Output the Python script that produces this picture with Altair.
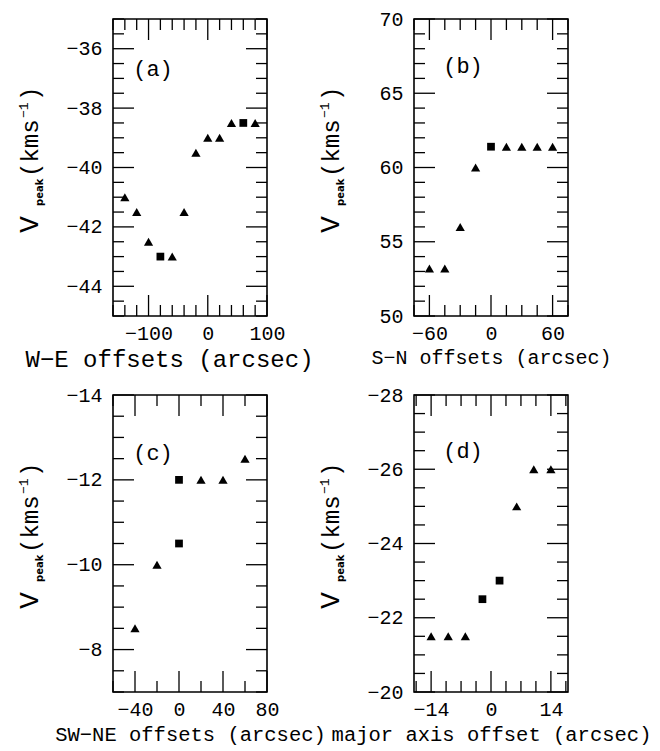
import altair as alt
import pandas as pd

FONT = "Liberation Mono"

# ---- data ----
a_x = [-140, -120, -100, -80, -60, -40, -20, 0, 20, 40, 60, 80]
a_y = [-41, -41.5, -42.5, -43, -43, -41.5, -39.5, -39, -39, -38.5, -38.5, -38.5]
a_k = ["t", "t", "t", "s", "t", "t", "t", "t", "t", "t", "s", "t"]

b_x = [-60, -45, -30, -15, 0, 15, 30, 45, 60]
b_y = [53.2, 53.2, 56, 60, 61.4, 61.4, 61.4, 61.4, 61.4]
b_k = ["t", "t", "t", "t", "s", "t", "t", "t", "t"]

c_x = [-40, -20, 0, 0, 20, 40, 60]
c_y = [-8.5, -10, -10.5, -12, -12, -12, -12.5]
c_k = ["t", "t", "s", "s", "t", "t", "t"]

d_x = [-14, -10, -6, -2, 2, 6, 10, 14]
d_y = [-21.5, -21.5, -21.5, -22.5, -23, -25, -26, -26]
d_k = ["t", "t", "t", "s", "s", "t", "t", "t"]

# axis ticks (major = labelled, minor = unlabelled)
a_xmaj = [-100, 0, 100]
a_xmin = [-160, -140, -120, -80, -60, -40, -20, 20, 40, 60, 80]
a_ymaj = [-44, -42, -40, -38, -36]
a_ymin = [-45, -44.5, -43.5, -43, -42.5, -41.5, -41, -40.5, -39.5, -39, -38.5,
          -37.5, -37, -36.5, -35.5, -35]

b_xmaj = [-60, 0, 60]
b_xmin = [-75, -45, -30, -15, 15, 30, 45, 75]
b_ymaj = [50, 55, 60, 65, 70]
b_ymin = [51, 52, 53, 54, 56, 57, 58, 59, 61, 62, 63, 64, 66, 67, 68, 69]

c_xmaj = [-40, 0, 40, 80]
c_xmin = [-60, -20, 20, 60]
c_ymaj = [-14, -12, -10, -8]
c_ymin = [-13.5, -13, -12.5, -11.5, -11, -10.5, -9.5, -9, -8.5, -7.5, -7]

d_xmaj = [-14, 0, 14]
d_xmin = [-17.5, -10.5, -7, -3.5, 3.5, 7, 10.5, 17.5]
d_ymaj = [-28, -26, -24, -22, -20]
d_ymin = [-27.5, -27, -26.5, -25.5, -25, -24.5, -23.5, -23, -22.5, -21.5, -21, -20.5]

# y-axis title "V_peak (km s^-1)" built from pieces:
# (text, font, size, weight, baseline x offset, start y)
YT_PIECES = [
    ("V", FONT, 28, "normal", -75, 214),
    ("peak", "DejaVu Sans", 10, "bold", -70, 187),
    ("(kms", FONT, 24, "normal", -75, 158),
    ("\u22121", FONT, 13, "normal", -85, 99),
    (")", FONT, 24, "normal", -75, 82),
]

W, H = 154, 297
MAJ, MIN = 21, 11
LABSIZE = 20


def panel(px, py, pk, xdom, ydom, yrev, xmaj, xmin, ymaj, ymin, xtitle, label,
          lab_xy, xlab_pad, xtitle_y, xtitle_x, xtitle_size):
    xs = alt.Scale(domain=xdom, zero=False, nice=False)
    ys = alt.Scale(domain=ydom, zero=False, nice=False, reverse=yrev)
    df = pd.DataFrame({"x": px, "y": py, "k": pk})
    xaxis = alt.Axis(values=xmaj, format="d", title=xtitle, domain=False, ticks=False,
                     tickSize=0, grid=False, labelFont=FONT, labelFontSize=LABSIZE,
                     labelColor="black", labelBaseline="middle", labelPadding=xlab_pad,
                     labelFlush=False, labelOverlap=False,
                     titleFont=FONT, titleFontSize=xtitle_size, titleFontWeight="normal",
                     titleColor="black", titleBaseline="alphabetic", titleY=xtitle_y,
                     titleX=xtitle_x, titleAlign="center")
    yaxis = alt.Axis(values=ymaj, format="d", title=None, domain=False, ticks=False,
                     tickSize=0, grid=False, labelFont=FONT, labelFontSize=LABSIZE,
                     labelColor="black", labelPadding=11, labelFlush=False,
                     labelOverlap=False)

    def X(f):
        return alt.X(f, scale=xs, axis=xaxis)

    def Y(f):
        return alt.Y(f, scale=ys, axis=yaxis)

    tri = alt.Chart(df).transform_filter("datum.k == 't'").mark_point(
        shape="triangle-up", filled=True, color="black", size=85, opacity=1
    ).encode(x=X("x:Q"), y=Y("y:Q"))
    sq = alt.Chart(df).transform_filter("datum.k == 's'").mark_point(
        shape="square", filled=True, color="black", size=60, opacity=1
    ).encode(x=X("x:Q"), y=Y("y:Q"))

    layers = [tri, sq]
    for vals, L in ((xmaj, MAJ), (xmin, MIN)):
        d = pd.DataFrame({"x": vals})
        for y0, y1 in ((0, L), (H, H - L)):
            layers.append(alt.Chart(d).mark_rule(color="black", strokeWidth=1.3).encode(
                x=X("x:Q"), y=alt.value(y0), y2=alt.value(y1)))
    for vals, L in ((ymaj, MAJ), (ymin, MIN)):
        d = pd.DataFrame({"y": vals})
        for x0, x1 in ((0, L), (W, W - L)):
            layers.append(alt.Chart(d).mark_rule(color="black", strokeWidth=1.3).encode(
                y=Y("y:Q"), x=alt.value(x0), x2=alt.value(x1)))
    lab = alt.Chart(pd.DataFrame({"t": [label]})).mark_text(
        font=FONT, fontSize=22, color="black", align="center", baseline="middle"
    ).encode(text="t:N", x=alt.value(lab_xy[0]), y=alt.value(lab_xy[1]))
    layers.append(lab)
    for txt, fnt, fs, fw, bx, sy in YT_PIECES:
        layers.append(alt.Chart(pd.DataFrame({"t": [txt]})).mark_text(
            font=fnt, fontSize=fs, fontWeight=fw, color="black", angle=270,
            align="left", baseline="alphabetic"
        ).encode(text="t:N", x=alt.value(bx), y=alt.value(sy)))
    return alt.layer(*layers).properties(width=W, height=H)


pa = panel(a_x, a_y, a_k, [-160, 100], [-45, -35], False, a_xmaj, a_xmin, a_ymaj, a_ymin,
           "W\u2212E offsets (arcsec)", "(a)", (40, 50), 17, 50, 56, 24)
pb = panel(b_x, b_y, b_k, [-75, 75], [50, 70], False, b_xmaj, b_xmin, b_ymaj, b_ymin,
           "S\u2212N offsets (arcsec)", "(b)", (49, 47), 17, 47, W / 2, 20)
pc = panel(c_x, c_y, c_k, [-60, 80], [-14, -7], True, c_xmaj, c_xmin, c_ymaj, c_ymin,
           "SW\u2212NE offsets (arcsec)", "(c)", (40, 58), 17, 48, W / 2, 20.5)
pd_ = panel(d_x, d_y, d_k, [-18, 18], [-28, -20], True, d_xmaj, d_xmin, d_ymaj, d_ymin,
            "major axis offset (arcsec)", "(d)", (49, 56), 17, 48, W / 2, 20.5)

chart = alt.concat(pa, pb, pc, pd_, columns=2, spacing={"row": 79, "column": 147},
                   bounds="flush").properties(
    padding={"left": 7, "top": 0, "right": 0, "bottom": 0},
    background="white",
).configure_view(stroke="black", strokeWidth=1.6)

chart.save("out.html", embed_options={"renderer": "svg", "actions": False})
